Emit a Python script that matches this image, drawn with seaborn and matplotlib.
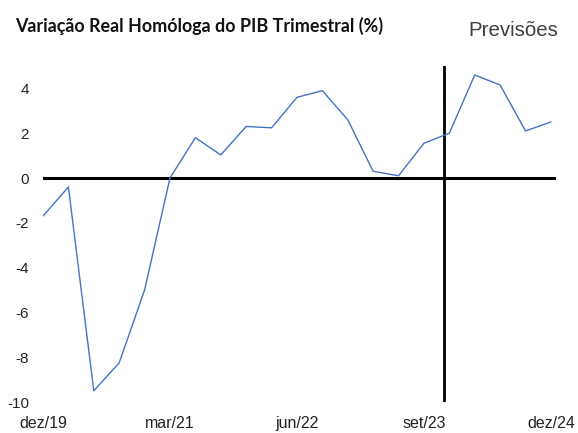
import matplotlib
matplotlib.use("Agg")
import matplotlib.pyplot as plt
import seaborn as sns
import pandas as pd

quarters = ["dez/19", "mar/20", "jun/20", "set/20", "dez/20", "mar/21", "jun/21",
            "set/21", "dez/21", "mar/22", "jun/22", "set/22", "dez/22", "mar/23",
            "jun/23", "set/23", "dez/23", "mar/24", "jun/24", "set/24", "dez/24"]
gdp_yoy = [-1.7, -0.4, -9.5, -8.25, -5.0, 0.0, 1.8, 1.03, 2.3, 2.24, 3.6, 3.9,
           2.6, 0.3, 0.1, 1.55, 2.0, 4.6, 4.15, 2.1, 2.5]
tick_labels = ["dez/19", "mar/21", "jun/22", "set/23", "dez/24"]
y_ticks = [-10, -8, -6, -4, -2, 0, 2, 4]
forecast_start = 15.8

df = pd.DataFrame({"idx": range(len(quarters)), "q": quarters, "v": gdp_yoy})

sns.set_theme(style="white")
plt.rcParams['font.family'] = ['Liberation Sans', 'DejaVu Sans']

fig = plt.figure(figsize=(5.78, 4.33), dpi=100)
ax = fig.add_axes([43/578, 1-402/433, 513/578, 336/433])

sns.lineplot(data=df, x="idx", y="v", ax=ax, color="#4472C4", linewidth=1.0)

ax.plot([0, 20.2], [0, 0], color="black", lw=2.2, zorder=1)
ax.plot([forecast_start, forecast_start], [-10, 5], color="black", lw=2.0, zorder=1)

ax.set_xlim(0, 20.2)
ax.set_ylim(-10, 5)
ax.set_yticks(y_ticks)
ax.set_yticklabels([str(t) for t in y_ticks], fontsize=11, color="#222222")
ax.set_xticks([quarters.index(t) for t in tick_labels])
ax.set_xticklabels(tick_labels, fontsize=11.5, color="#222222")
ax.tick_params(axis="x", length=0, pad=10)
ax.tick_params(axis="y", length=0, pad=10)
ax.set_xlabel("")
ax.set_ylabel("")
for s in ax.spines.values():
    s.set_visible(False)

fig.text(15/578, 1-26/433, "Variação Real Homóloga do PIB Trimestral (%)",
         fontsize=12.9, fontweight="bold", family=["Lato", "DejaVu Sans"],
         ha="left", va="center", color="#111111")
fig.text(468/578, 1-30/433, "Previsões", fontsize=14.8, ha="left", va="center",
         color="#404040", family=["Liberation Sans", "DejaVu Sans"])

fig.savefig("out.png", dpi=100)
